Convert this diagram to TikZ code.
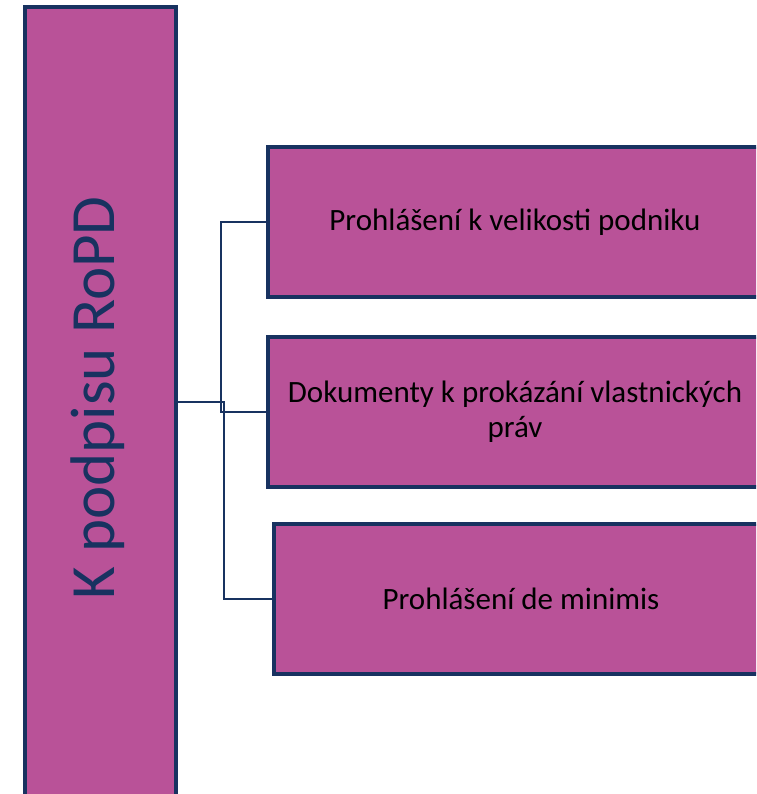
\documentclass[tikz,border=0pt]{standalone}
\usepackage{fontspec}
\setmainfont{Carlito}
\usetikzlibrary{positioning}
\definecolor{ropdfill}{RGB}{185,82,152}
\definecolor{ropdnavy}{RGB}{24,50,96}
\tikzset{
  itembox/.style={rectangle, draw=ropdnavy, fill=ropdfill, line width=3.2pt, minimum width=494pt, minimum height=150pt, align=center, text=black, font=\fontsize{31}{35}\selectfont},
  conn/.style={draw=ropdnavy, line width=2.8pt}
}

\begin{document}
\begin{tikzpicture}[x=1pt, y=-1pt]
\useasboundingbox (0,0) rectangle (756,794);
\clip (0,0) rectangle (756,794);
\fill[white] (0,0) rectangle (756,794);
%\node[rotate=90] at (100,402) {K podpisu RoPD};
\node[rectangle, draw=ropdnavy, fill=ropdfill, line width=3.2pt, minimum width=151pt, minimum height=830pt] (ropd) at (100.5,422) {};
\node[rotate=90, text=ropdnavy, font=\fontsize{63}{63}\selectfont] (ropdlabel) at (98,398) {K podpisu RoPD};

\node[itembox] (velikost) at (515,222) {Prohlášení k velikosti podniku};
\node[itembox] (vlastnictvi) at (515,412) {Dokumenty k prokázání vlastnických\\ práv};
\node[itembox] (minimis) at (521,599) {Prohlášení de minimis};

\coordinate (fork) at (221,402);
\coordinate (forkb) at (224,402);
\draw[conn] (ropd.east |- fork) -- (fork) |- (velikost.west);
\draw[conn] (fork) |- (vlastnictvi.west);
\draw[conn] (ropd.east |- forkb) -- (forkb) |- (minimis.west);
\end{tikzpicture}
\end{document}
